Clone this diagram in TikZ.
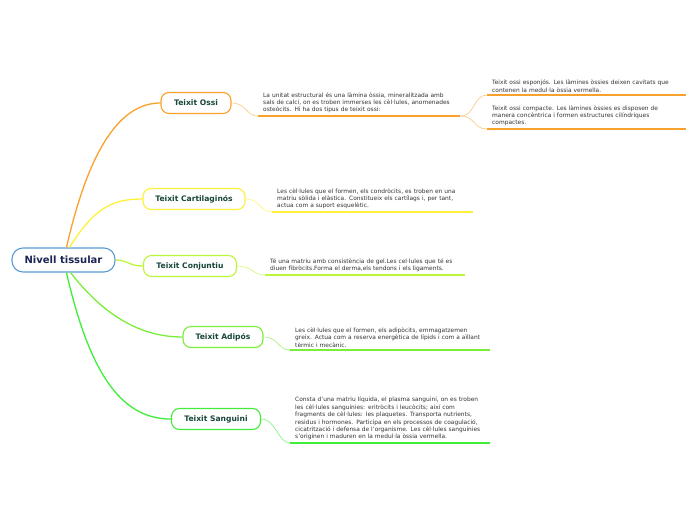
\documentclass[tikz,border=0pt]{standalone}
\usepackage{fontspec}
\setmainfont{DejaVu Sans}
\usetikzlibrary{positioning}
\definecolor{rootBlue}{HTML}{5B9BD5}
\definecolor{rootText}{HTML}{1B2654}
\definecolor{topicText}{HTML}{17463A}
\definecolor{descText}{HTML}{333333}
\definecolor{ossiOrange}{HTML}{F9A22B}
\definecolor{cartYellow}{HTML}{FFF03A}
\definecolor{conjLime}{HTML}{BDF53A}
\definecolor{adipGreen}{HTML}{7AEE3A}
\definecolor{sangGreen}{HTML}{40EE3A}

\begin{document}
\begin{tikzpicture}[x=1pt, y=-1pt,
    topic/.style={rectangle, rounded corners=8pt, fill=white, line width=1.1pt,
      minimum height=21pt, inner xsep=10pt, text=topicText,
      font=\fontsize{7.6}{8.6}\selectfont\bfseries},
    desc/.style={anchor=south west, inner xsep=5pt, inner ysep=2.6pt, align=left,
      text=descText, font=\fontsize{5.9}{7.4}\selectfont},
    branch/.style={line width=1.3pt},
    link/.style={line width=0.6pt},
    uline/.style={line width=1.5pt}
  ]
  \useasboundingbox (0,0) rectangle (696,520);

  % central topic
  \node[rectangle, rounded corners=11pt, draw=rootBlue, fill=white, line width=1.1pt,
    minimum width=103pt, minimum height=24pt, text=rootText,
    font=\fontsize{10}{12}\selectfont\bfseries] (root) at (63.5,260) {Nivell tissular};

  % main topics
  \node[topic, draw=ossiOrange, minimum width=70pt]  (ossi) at (196,103) {Teixit Ossi};
  \node[topic, draw=cartYellow, minimum width=102pt] (cart) at (194,199) {Teixit Cartilaginós};
  \node[topic, draw=conjLime, minimum width=93pt]    (conj) at (190,266) {Teixit Conjuntiu};
  \node[topic, draw=adipGreen, minimum width=80pt]   (adip) at (223,337) {Teixit Adipós};
  \node[topic, draw=sangGreen, minimum width=89pt]   (sang) at (216,419) {Teixit Sanguini};

  % branches
  \draw[branch, ossiOrange] ([xshift=3pt]root.north) .. controls +(25,-110) and +(-35,0) .. (ossi.west);
  \draw[branch, cartYellow] ([xshift=6pt]root.north) .. controls +(25,-40) and +(-30,0) .. (cart.west);
  \draw[branch, conjLime] (root.east) .. controls +(12,0) and +(-14,0) .. (conj.west);
  \draw[branch, adipGreen] ([xshift=7pt]root.south) .. controls +(35,45) and +(-40,0) .. (adip.west);
  \draw[branch, sangGreen] ([xshift=3pt]root.south) .. controls +(25,110) and +(-45,0) .. (sang.west);

  % descriptions
  \node[desc, text width=192pt] (ossiDesc) at (258,116)
    {La unitat estructural és una làmina òssia, mineralitzada amb\\
     sals de calci, on es troben immerses les cèl·lules, anomenades\\
     osteòcits. Hi ha dos tipus de teixit ossi:};
  \node[desc, text width=189pt] (ossiEsp) at (487,95)
    {Teixit ossi esponjós. Les làmines òssies deixen cavitats que\\
     contenen la medul·la òssia vermella.};
  \node[desc, text width=189pt] (ossiComp) at (487,129)
    {Teixit ossi compacte. Les làmines òssies es disposen de\\
     manera concèntrica i formen estructures cilíndriques\\
     compactes.};
  \node[desc, text width=191pt] (cartDesc) at (272,212)
    {Les cèl·lules que el formen, els condròcits, es troben en una\\
     matriu sòlida i elàstica. Constitueix els cartílags i, per tant,\\
     actua com a suport esquelètic.};
  \node[desc, text width=190pt] (conjDesc) at (265,275)
    {Té una matriu amb consistència de gel.Les cel·lules que té es\\
     diuen fibròcits.Forma el derma,els tendons i els ligaments.};
  \node[desc, text width=190pt] (adipDesc) at (290,350)
    {Les cèl·lules que el formen, els adipòcits, emmagatzemen\\
     greix. Actua com a reserva energètica de lípids i com a aïllant\\
     tèrmic i mecànic.};
  \node[desc, text width=190pt] (sangDesc) at (290,443)
    {Consta d'una matriu líquida, el plasma sanguini, on es troben\\
     les cèl·lules sanguínies: eritròcits i leucòcits; així com\\
     fragments de cèl·lules: les plaquetes. Transporta nutrients,\\
     residus i hormones. Participa en els processos de coagulació,\\
     cicatrització i defensa de l'organisme. Les cèl·lules sanguínies\\
     s'originen i maduren en la medul·la òssia vermella.};

  % underlines
  \draw[uline, ossiOrange] (ossiDesc.south west) -- (ossiDesc.south east);
  \draw[uline, ossiOrange] (ossiEsp.south west) -- (ossiEsp.south east);
  \draw[uline, ossiOrange] (ossiComp.south west) -- (ossiComp.south east);
  \draw[uline, cartYellow] (cartDesc.south west) -- (cartDesc.south east);
  \draw[uline, conjLime] (conjDesc.south west) -- (conjDesc.south east);
  \draw[uline, adipGreen] (adipDesc.south west) -- (adipDesc.south east);
  \draw[uline, sangGreen] (sangDesc.south west) -- (sangDesc.south east);

  % links to descriptions
  \draw[link, ossiOrange!60] (ossi.east) .. controls +(15,0) and +(-12,0) .. (ossiDesc.south west);
  \draw[link, ossiOrange!60] (ossiDesc.south east) .. controls +(15,0) and +(-14,0) .. (ossiEsp.south west);
  \draw[link, ossiOrange!60] (ossiDesc.south east) .. controls +(15,0) and +(-14,0) .. (ossiComp.south west);
  \draw[link, cartYellow!70] (cart.east) .. controls +(15,0) and +(-12,0) .. (cartDesc.south west);
  \draw[link, conjLime!70] (conj.east) .. controls +(15,0) and +(-12,0) .. (conjDesc.south west);
  \draw[link, adipGreen!70] (adip.east) .. controls +(15,0) and +(-12,0) .. (adipDesc.south west);
  \draw[link, sangGreen!70] (sang.east) .. controls +(15,0) and +(-12,0) .. (sangDesc.south west);
\end{tikzpicture}
\end{document}
